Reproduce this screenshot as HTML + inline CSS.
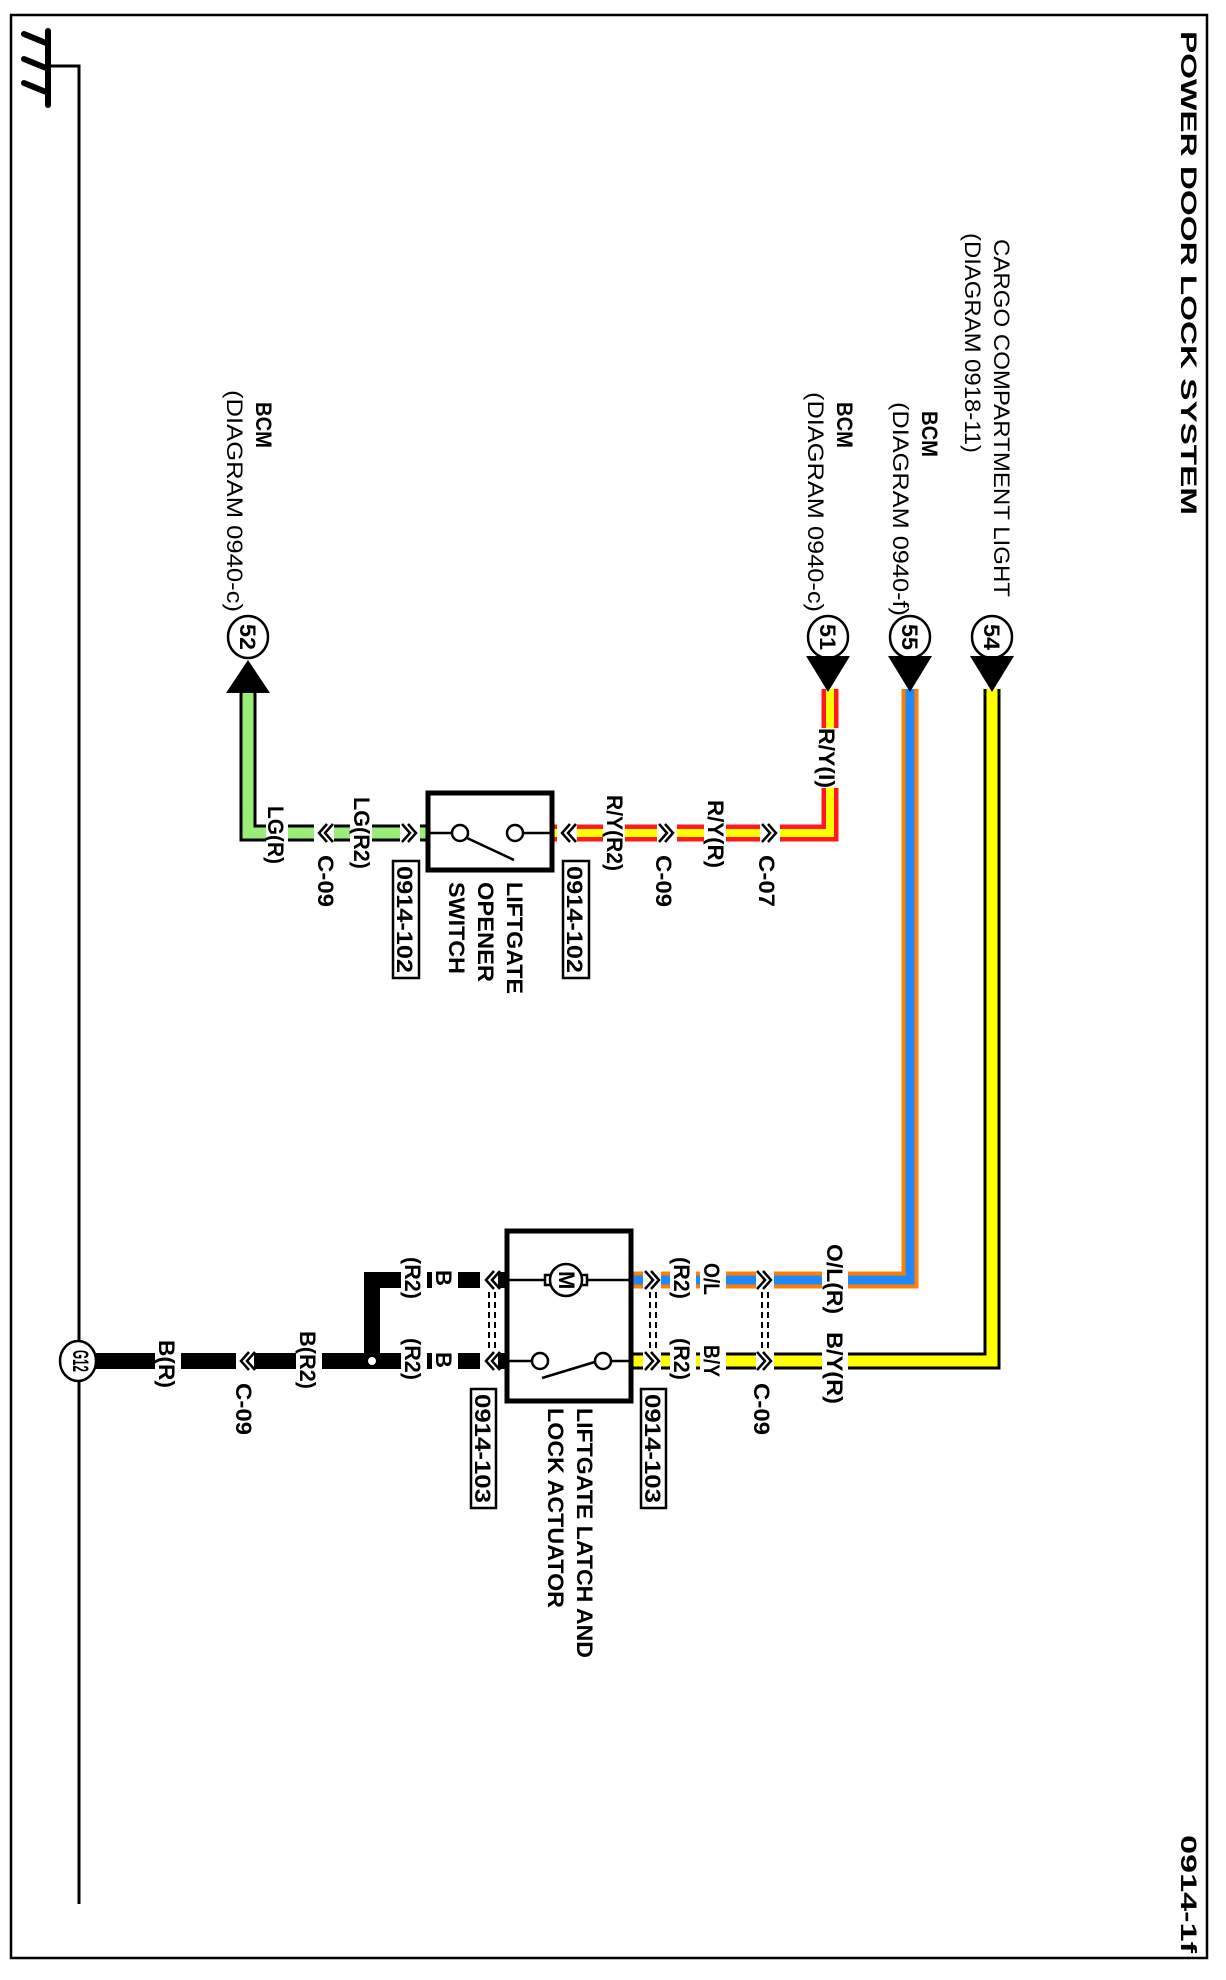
<!DOCTYPE html>
<html><head><meta charset="utf-8"><style>
html,body{margin:0;padding:0;background:#fff}
svg{display:block}
text{font-family:"Liberation Sans",sans-serif;font-size:22px;fill:#000;font-weight:bold}
</style></head><body>
<svg width="1226" height="1980" viewBox="0 0 1226 1980" xmlns="http://www.w3.org/2000/svg">
<rect x="11" y="15" width="1196" height="1943" fill="none" stroke="#000" stroke-width="2.5"/>
<g stroke="#000" stroke-linecap="round" fill="none">
<line x1="48" y1="31" x2="48" y2="105" stroke-width="6"/>
<line x1="24" y1="34" x2="46" y2="43" stroke-width="6"/>
<line x1="24" y1="59" x2="46" y2="68" stroke-width="6"/>
<line x1="24" y1="83" x2="46" y2="92" stroke-width="6"/>
<polyline points="48,66 79,66 79,1904" stroke-width="3" stroke-linecap="butt"/>
</g>
<text transform="translate(1181,31) rotate(90)" font-size="30" textLength="484" lengthAdjust="spacingAndGlyphs" style="font-weight:bold">POWER DOOR LOCK SYSTEM</text>
<text transform="translate(1181,1835) rotate(90)" font-size="30" textLength="118" lengthAdjust="spacingAndGlyphs">0914-1f</text>

<g fill="none" stroke-linejoin="miter">
<path d="M248,692 V833 H427" stroke="#000" stroke-width="17"/>
<path d="M248,692 V833 H427" stroke="#99ee77" stroke-width="11"/>
<path d="M553,833 H830 V689" stroke="#ff1a1a" stroke-width="17"/>
<path d="M553,833 H830 V689" stroke="#ffff00" stroke-width="8"/>
<path d="M910,689 V1280 H632" stroke="#ff8000" stroke-width="17"/>
<path d="M910,689 V1280 H632" stroke="#1e88ff" stroke-width="9"/>
<path d="M992,689 V1361 H632" stroke="#000" stroke-width="17"/>
<path d="M992,689 V1361 H632" stroke="#ffff00" stroke-width="11"/>
<path d="M505,1280 H372 V1361" stroke="#000" stroke-width="16"/>
<path d="M505,1361 H79" stroke="#000" stroke-width="16"/>
</g>
<g fill="#fff">
<rect x="266" y="805" width="22" height="60"/>
<rect x="350" y="797" width="22" height="74"/>
<rect x="603" y="795" width="22" height="76"/>
<rect x="704" y="800" width="22" height="70"/>
<rect x="815" y="728" width="26" height="60"/>
<rect x="822" y="1244" width="26" height="72"/>
<rect x="822" y="1332" width="26" height="76"/>
<rect x="700" y="1263" width="26" height="34"/>
<rect x="700" y="1345" width="26" height="34"/>
<rect x="670" y="1257" width="26" height="44"/>
<rect x="670" y="1338" width="26" height="44"/>
<rect x="432" y="1268" width="26" height="24"/>
<rect x="432" y="1350" width="26" height="24"/>
<rect x="401" y="1257" width="26" height="44"/>
<rect x="401" y="1338" width="26" height="44"/>
<rect x="296" y="1331" width="26" height="60"/>
<rect x="155" y="1340" width="26" height="50"/>
<rect x="314" y="822" width="20" height="22"/>
<rect x="400" y="822" width="20" height="22"/>
<rect x="557" y="822" width="20" height="22"/>
<rect x="657" y="822" width="20" height="22"/>
<rect x="760" y="822" width="20" height="22"/>
<rect x="643" y="1269" width="18" height="22"/>
<rect x="756" y="1269" width="18" height="22"/>
<rect x="643" y="1350" width="18" height="22"/>
<rect x="756" y="1350" width="18" height="22"/>
<rect x="480" y="1269" width="18" height="22"/>
<rect x="480" y="1350" width="18" height="22"/>
<rect x="236" y="1350" width="18" height="22"/>
</g>
<g fill="none" stroke="#000" stroke-width="2.5">
<path d="M327,824 L319,833 L327,842 M333,824 L325,833 L333,842"/>
<path d="M570,824 L562,833 L570,842 M576,824 L568,833 L576,842"/>
<path d="M494,1271 L486,1280 L494,1289 M500,1271 L492,1280 L500,1289"/>
<path d="M494,1352 L486,1361 L494,1370 M500,1352 L492,1361 L500,1370"/>
<path d="M249,1352 L241,1361 L249,1370 M255,1352 L247,1361 L255,1370"/>
<path d="M402,824 L410,833 L402,842 M408,824 L416,833 L408,842"/>
<path d="M659,824 L667,833 L659,842 M665,824 L673,833 L665,842"/>
<path d="M762,824 L770,833 L762,842 M768,824 L776,833 L768,842"/>
<path d="M645,1271 L653,1280 L645,1289 M651,1271 L659,1280 L651,1289"/>
<path d="M645,1352 L653,1361 L645,1370 M651,1352 L659,1361 L651,1370"/>
<path d="M757,1271 L765,1280 L757,1289 M763,1271 L771,1280 L763,1289"/>
<path d="M757,1352 L765,1361 L757,1370 M763,1352 L771,1361 L763,1370"/>
<path d="M489,1292 V1350 M495,1292 V1350" stroke-dasharray="6,4" stroke-width="2"/>
<path d="M650,1292 V1350 M656,1292 V1350" stroke-dasharray="6,4" stroke-width="2"/>
<path d="M762,1292 V1350 M768,1292 V1350" stroke-dasharray="6,4" stroke-width="2"/>
</g>

<g stroke="#000" stroke-width="2.5" fill="#fff">
<ellipse cx="248" cy="637" rx="20" ry="21"/>
<ellipse cx="828" cy="637" rx="20" ry="21"/>
<ellipse cx="910" cy="637" rx="20" ry="21"/>
<ellipse cx="992" cy="637" rx="20" ry="21"/>
<ellipse cx="78" cy="1361" rx="18" ry="20"/>
</g>
<g fill="#000">
<polygon points="248,660 226,693 270,693"/>
<polygon points="806,656 850,656 828,692"/>
<polygon points="888,656 932,656 910,692"/>
<polygon points="970,656 1014,656 992,692"/>
</g>
<text transform="translate(240,624) rotate(90)" font-size="20" textLength="26" lengthAdjust="spacingAndGlyphs">52</text>
<text transform="translate(820,624) rotate(90)" font-size="20" textLength="26" lengthAdjust="spacingAndGlyphs">51</text>
<text transform="translate(902,624) rotate(90)" font-size="20" textLength="26" lengthAdjust="spacingAndGlyphs">55</text>
<text transform="translate(984,624) rotate(90)" font-size="20" textLength="26" lengthAdjust="spacingAndGlyphs">54</text>
<text transform="translate(73,1350) rotate(90)" font-size="12" textLength="22" lengthAdjust="spacingAndGlyphs">G12</text>

<text transform="translate(256,402) rotate(90)" textLength="46" lengthAdjust="spacingAndGlyphs">BCM</text>
<text transform="translate(227,390) rotate(90)" textLength="222" lengthAdjust="spacingAndGlyphs" style="font-weight:normal">(DIAGRAM  0940-c)</text>
<text transform="translate(837,402) rotate(90)" textLength="46" lengthAdjust="spacingAndGlyphs">BCM</text>
<text transform="translate(808,392) rotate(90)" textLength="220" lengthAdjust="spacingAndGlyphs" style="font-weight:normal">(DIAGRAM  0940-c)</text>
<text transform="translate(922,411) rotate(90)" textLength="46" lengthAdjust="spacingAndGlyphs">BCM</text>
<text transform="translate(893,402) rotate(90)" textLength="214" lengthAdjust="spacingAndGlyphs" style="font-weight:normal">(DIAGRAM  0940-f)</text>
<text transform="translate(994,239) rotate(90)" textLength="358" lengthAdjust="spacingAndGlyphs" style="font-weight:normal">CARGO COMPARTMENT LIGHT</text>
<text transform="translate(965,233) rotate(90)" textLength="220" lengthAdjust="spacingAndGlyphs" style="font-weight:normal">(DIAGRAM  0918-11)</text>

<rect x="428" y="793" width="124" height="77" fill="#fff" stroke="#000" stroke-width="5"/>
<g stroke="#000" stroke-width="2.5" fill="#fff">
<line x1="430" y1="833" x2="452" y2="833"/>
<circle cx="460" cy="833" r="8"/>
<line x1="467" y1="838" x2="514" y2="860"/>
<circle cx="515" cy="833" r="8"/>
<line x1="523" y1="833" x2="550" y2="833"/>
</g>
<rect x="393" y="861" width="26" height="117" fill="#fff" stroke="#000" stroke-width="2.5"/>
<rect x="563" y="861" width="26" height="117" fill="#fff" stroke="#000" stroke-width="2.5"/>
<text transform="translate(397,866) rotate(90)" textLength="107" lengthAdjust="spacingAndGlyphs">0914-102</text>
<text transform="translate(567,866) rotate(90)" textLength="107" lengthAdjust="spacingAndGlyphs">0914-102</text>
<text transform="translate(507,882) rotate(90)" textLength="112" lengthAdjust="spacingAndGlyphs">LIFTGATE</text>
<text transform="translate(478,882) rotate(90)" textLength="100" lengthAdjust="spacingAndGlyphs">OPENER</text>
<text transform="translate(449,882) rotate(90)" textLength="92" lengthAdjust="spacingAndGlyphs">SWITCH</text>

<text transform="translate(268,806) rotate(90)" textLength="58" lengthAdjust="spacingAndGlyphs">LG(R)</text>
<text transform="translate(318,855) rotate(90)" textLength="52" lengthAdjust="spacingAndGlyphs">C-09</text>
<text transform="translate(354,797) rotate(90)" textLength="72" lengthAdjust="spacingAndGlyphs">LG(R2)</text>
<text transform="translate(607,795) rotate(90)" textLength="76" lengthAdjust="spacingAndGlyphs">R/Y(R2)</text>
<text transform="translate(656,855) rotate(90)" textLength="52" lengthAdjust="spacingAndGlyphs">C-09</text>
<text transform="translate(708,800) rotate(90)" textLength="68" lengthAdjust="spacingAndGlyphs">R/Y(R)</text>
<text transform="translate(759,855) rotate(90)" textLength="52" lengthAdjust="spacingAndGlyphs">C-07</text>
<text transform="translate(819,728) rotate(90)" textLength="60" lengthAdjust="spacingAndGlyphs">R/Y(I)</text>

<rect x="507" y="1231" width="124" height="170" fill="#fff" stroke="#000" stroke-width="5"/>
<g stroke="#000" stroke-width="2.5" fill="#fff">
<line x1="509" y1="1280" x2="629" y2="1280"/>
<rect x="545" y="1275" width="42" height="10"/>
<circle cx="566" cy="1280" r="16"/>
<line x1="509" y1="1361" x2="532" y2="1361"/>
<circle cx="540" cy="1361" r="8"/>
<line x1="542" y1="1378" x2="598" y2="1361"/>
<circle cx="603" cy="1361" r="8"/>
<line x1="611" y1="1361" x2="629" y2="1361"/>
</g>
<text transform="translate(559,1271) rotate(90)" font-size="18">M</text>
<rect x="641" y="1389" width="25" height="119" fill="#fff" stroke="#000" stroke-width="2.5"/>
<rect x="471" y="1389" width="25" height="119" fill="#fff" stroke="#000" stroke-width="2.5"/>
<text transform="translate(645,1394) rotate(90)" textLength="109" lengthAdjust="spacingAndGlyphs">0914-103</text>
<text transform="translate(475,1394) rotate(90)" textLength="109" lengthAdjust="spacingAndGlyphs">0914-103</text>
<text transform="translate(577,1408) rotate(90)" textLength="250" lengthAdjust="spacingAndGlyphs">LIFTGATE LATCH AND</text>
<text transform="translate(548,1408) rotate(90)" textLength="200" lengthAdjust="spacingAndGlyphs">LOCK ACTUATOR</text>

<text transform="translate(827,1244) rotate(90)" textLength="70" lengthAdjust="spacingAndGlyphs">O/L(R)</text>
<text transform="translate(827,1332) rotate(90)" textLength="72" lengthAdjust="spacingAndGlyphs">B/Y(R)</text>
<text transform="translate(704,1263) rotate(90)" textLength="32" lengthAdjust="spacingAndGlyphs">O/L</text>
<text transform="translate(704,1345) rotate(90)" textLength="32" lengthAdjust="spacingAndGlyphs">B/Y</text>
<text transform="translate(674,1257) rotate(90)" textLength="42" lengthAdjust="spacingAndGlyphs">(R2)</text>
<text transform="translate(674,1338) rotate(90)" textLength="42" lengthAdjust="spacingAndGlyphs">(R2)</text>
<text transform="translate(754,1383) rotate(90)" textLength="52" lengthAdjust="spacingAndGlyphs">C-09</text>

<text transform="translate(436,1270) rotate(90)" textLength="16" lengthAdjust="spacingAndGlyphs">B</text>
<text transform="translate(436,1352) rotate(90)" textLength="16" lengthAdjust="spacingAndGlyphs">B</text>
<text transform="translate(405,1257) rotate(90)" textLength="42" lengthAdjust="spacingAndGlyphs">(R2)</text>
<text transform="translate(405,1338) rotate(90)" textLength="42" lengthAdjust="spacingAndGlyphs">(R2)</text>
<text transform="translate(300,1331) rotate(90)" textLength="58" lengthAdjust="spacingAndGlyphs">B(R2)</text>
<text transform="translate(236,1383) rotate(90)" textLength="52" lengthAdjust="spacingAndGlyphs">C-09</text>
<text transform="translate(159,1340) rotate(90)" textLength="48" lengthAdjust="spacingAndGlyphs">B(R)</text>
<circle cx="372" cy="1361" r="5" fill="#fff" stroke="#000" stroke-width="2"/>
</svg>
</body></html>
